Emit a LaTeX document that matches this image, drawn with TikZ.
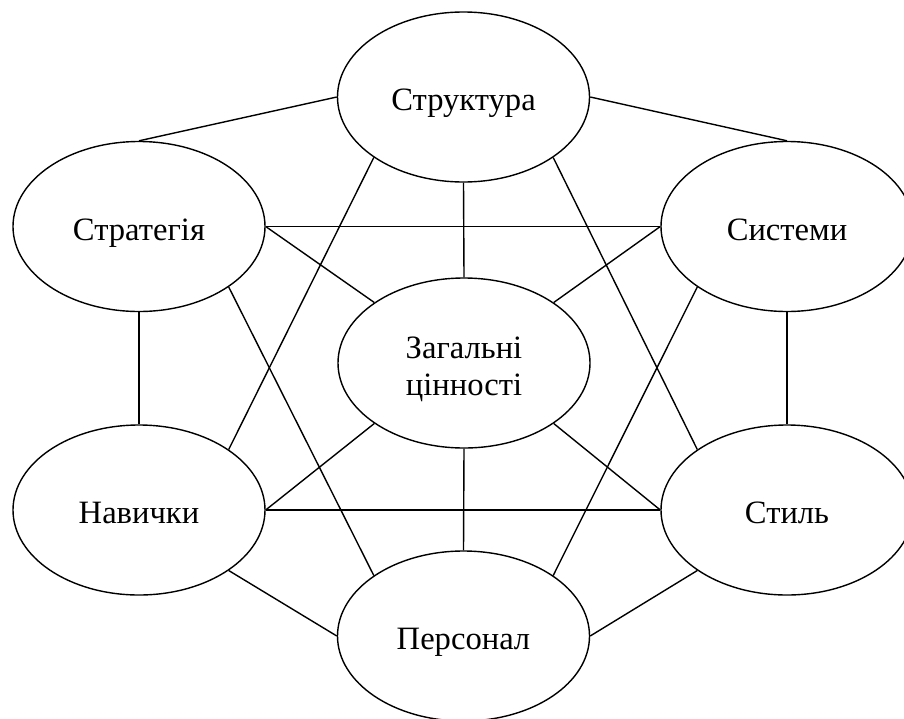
\documentclass[tikz,border=0pt]{standalone}
\usepackage{fontspec}
\setmainfont{Liberation Serif}
\usetikzlibrary{shapes.geometric}
\begin{document}
\begin{tikzpicture}[x=0.5pt,y=-0.5pt,line width=0.7pt,
  elem/.style={draw,ellipse,minimum width=126pt,minimum height=85pt,inner sep=0pt,
    text height=13.8pt,text depth=0pt,align=center,font=\fontsize{16.3}{18.5}\selectfont}]
  \clip (0,0) rectangle (904,718);

  \node (struct) at (463.5,97) [elem]{Структура};
  \node (strat) at (139,226.5) [elem]{Стратегія};
  \node (syst) at (787,226.5) [elem]{Системи};
  \node (shared) at (464,363) [elem,text height=32.3pt]{Загальні\\цінності};
  \node (skills) at (139,510) [elem]{Навички};
  \node (styl) at (787,510) [elem]{Стиль};
  \node (staff) at (463.5,636) [elem]{Персонал};

  % outer ring
  \draw (struct.west) -- (strat.north);
  \draw (struct.east) -- (syst.north);
  \draw (strat.south) -- (skills.north);
  \draw (syst.south) -- (styl.north);
  \draw (skills.326) -- (staff.west);
  \draw (styl.214) -- (staff.east);

  \draw (strat.east) -- (syst.west);
  \draw (skills.east) -- (styl.west);

  % to the centre
  \draw (struct.south) -- (shared.north);
  \draw (shared.south) -- (staff.north);
  \draw (strat.east) -- (shared.146);
  \draw (syst.west) -- (shared.34);
  \draw (skills.east) -- (shared.214);
  \draw (styl.west) -- (shared.326);

  % long diagonals
  \draw (struct.214) -- (skills.34);
  \draw (struct.326) -- (styl.146);
  \draw (strat.326) -- (staff.146);
  \draw (syst.214) -- (staff.34);

\end{tikzpicture}
\end{document}
